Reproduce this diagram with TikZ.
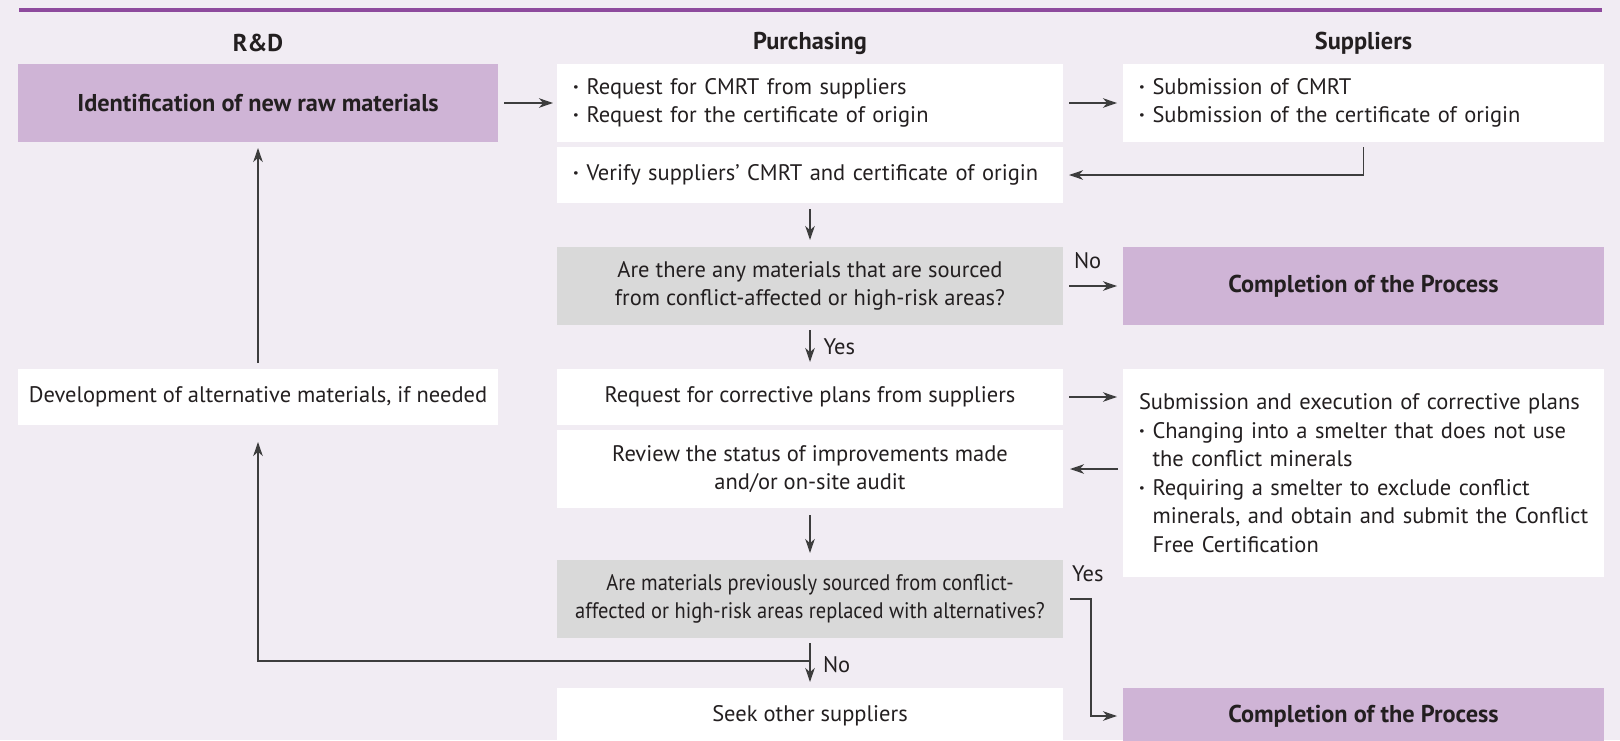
\documentclass[tikz,border=0pt]{standalone}
\usepackage{fontspec}
\setmainfont{PT Sans}
\newfontfamily\narrowfont[FakeStretch=0.91]{PT Sans}
\usepackage{xcolor}
\usetikzlibrary{positioning, arrows.meta, calc}

\definecolor{bgcol}{HTML}{F1ECF3}
\definecolor{lineviolet}{HTML}{8E4A9D}
\definecolor{violetbox}{HTML}{CFB4D6}
\definecolor{greybox}{HTML}{D9D9D9}
\definecolor{ink}{HTML}{231F20}
\definecolor{arrowcol}{HTML}{3D3D3D}

\newcommand{\bodysize}{\fontsize{16pt}{20.3pt}\selectfont}
\newcommand{\boldsize}{\fontsize{17.3pt}{21pt}\selectfont\bfseries}
\newcommand{\bul}[1]{\mbox{\makebox[0.6em][l]{\textbf{·}}#1}}
\newcommand{\ind}[1]{\mbox{\hspace*{0.6em}#1}}

\begin{document}
\begin{tikzpicture}[
    wbox/.style={rectangle, fill=white, inner xsep=0pt, inner ysep=0pt, outer sep=0pt, align=center, minimum height=1.4cm, text=ink, font=\bodysize},
    tallbox/.style={minimum height=1.95cm},
    leftcol/.style={minimum width=12cm},
    midcol/.style={minimum width=12.65cm},
    rightcol/.style={minimum width=12.025cm},
    listmid/.style={midcol, align=left, inner xsep=0.4cm, text width=11.85cm},
    listright/.style={rightcol, align=left, inner xsep=0.4cm, text width=11.225cm},
    pbox/.style={wbox, tallbox, fill=violetbox, font=\boldsize},
    gbox/.style={wbox, tallbox, fill=greybox},
    head/.style={text=ink, font=\boldsize},
    lbl/.style={text=ink, font=\bodysize, inner sep=2pt},
    arrow/.style={-{Stealth[length=10pt, width=6.8pt, inset=3pt]}, line width=1pt, draw=arrowcol}
]
\useasboundingbox (0,0) rectangle (40.5,-18.5);
\fill[bgcol] (0,0) rectangle (40.5,-18.5);
\draw[lineviolet, line width=2.2pt] (0.475,-0.25) -- (40.05,-0.25);

% first row
\node[pbox, leftcol] (ident) at (6.45,-2.575) {Identification of new raw materials};
\node[wbox, tallbox, listmid, right=1.475cm of ident] (reqcmrt) {\bul{Request for CMRT from suppliers}\\\bul{Request for the certificate of origin}};
\node[wbox, tallbox, listright, right=1.5cm of reqcmrt] (submit) {\bul{Submission of CMRT}\\\bul{Submission of the certificate of origin}};
\node[head] at ($(ident.north)+(0,0.525)$) {R\&D};
\node[head] at ($(reqcmrt.north)+(0,0.525)$) {Purchasing};
\node[head] at ($(submit.north)+(0,0.525)$) {Suppliers};

% purchasing column
\node[wbox, listmid, below=0.125cm of reqcmrt] (verify) {\bul{Verify suppliers’ CMRT and certificate of origin}};
\node[gbox, midcol, below=1.1cm of verify] (dec1) {Are there any materials that are sourced\\from conflict-affected or high-risk areas?};
\node[pbox, rightcol, right=1.5cm of dec1] (done1) {Completion of the Process};
\node[wbox, midcol, below=1.1cm of dec1] (reqcorr) {Request for corrective plans from suppliers};
\node[wbox, listright, minimum height=5.2cm, below=1.1cm of done1] (suppcorr) {\mbox{Submission and execution of corrective plans}\\
\bul{Changing into a smelter that does not use}\\
\ind{the conflict minerals}\\
\bul{Requiring a smelter to exclude conflict}\\
\ind{minerals, and obtain and submit the Conflict}\\
\ind{Free Certification}};
\node[wbox, leftcol, left=1.475cm of reqcorr] (dev) {Development of alternative materials, if needed};
\node[wbox, tallbox, midcol, below=0.125cm of reqcorr] (review) {Review the status of improvements made\\and/or on-site audit};
\node[gbox, midcol, below=1.3cm of review, font=\bodysize\narrowfont] (dec2) {Are materials previously sourced from conflict-\\affected or high-risk areas replaced with alternatives?};
\node[wbox, midcol, below=1.25cm of dec2] (seek) {Seek other suppliers};
\node[pbox, rightcol, minimum height=1.4cm, right=1.5cm of seek] (done2) {Completion of the Process};
\coordinate (nojoin) at ($(dec2.south)!0.46!(seek.north)$);

% connectors
\draw[arrow, shorten <=0.15cm, shorten >=0.1cm] (ident) -- (reqcmrt);
\draw[arrow, shorten <=0.15cm, shorten >=0.15cm] (reqcmrt) -- (submit);
\draw[arrow, shorten <=0.125cm, shorten >=0.15cm] (submit.south) |- (verify.east);
\draw[arrow, shorten <=0.15cm, shorten >=0.175cm] (verify) -- (dec1);
\draw[arrow, shorten <=0.15cm, shorten >=0.15cm] (dec1) -- (done1);
\node[lbl, above right=0.35cm and 0.2cm of dec1.east] {No};
\draw[arrow, shorten <=0.125cm, shorten >=0.175cm] (dec1) -- (reqcorr) node[lbl, midway, right=0.25cm] {Yes};
\draw[arrow, shorten <=0.15cm, shorten >=0.15cm] (reqcorr.east) -- (reqcorr.east -| suppcorr.west);
\draw[arrow, shorten <=0.125cm, shorten >=0.175cm] (suppcorr.west |- review.east) -- (review.east);
\draw[arrow, shorten <=0.175cm, shorten >=0.175cm] (review) -- (dec2);
\draw[arrow, shorten <=0.175cm, shorten >=0.15cm] (dec2.east) -- ++(0.7,0) |- (done2.west);
\node[lbl, above right=0.35cm and 0.15cm of dec2.east] {Yes};
\draw[arrow, shorten <=0.125cm, shorten >=0.15cm] (dec2) -- (seek);
\node[lbl, right=0.25cm of nojoin, yshift=-0.1cm] {No};
\draw[arrow, shorten >=0.425cm] (nojoin) -| (dev.south);
\draw[arrow, shorten <=0.15cm, shorten >=0.15cm] (dev) -- (ident);
\end{tikzpicture}
\end{document}
